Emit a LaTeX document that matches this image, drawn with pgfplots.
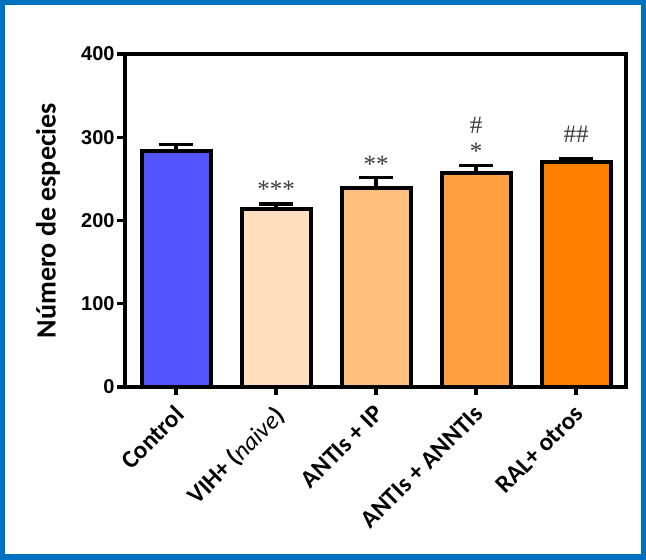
\documentclass[border=0pt]{standalone}
\usepackage{pgfplots}
\pgfplotsset{compat=1.18}
\usepackage{fontspec}
\setmainfont{Carlito}
\newfontfamily\numfont{Liberation Sans}
\newfontfamily\starfont{Liberation Serif}

\definecolor{frameblue}{RGB}{0,112,192}
\definecolor{cControl}{RGB}{85,85,255}
\definecolor{cNaive}{RGB}{255,223,191}
\definecolor{cIP}{RGB}{255,191,127}
\definecolor{cANNTI}{RGB}{255,160,64}
\definecolor{cRAL}{RGB}{255,128,0}
\definecolor{startext}{RGB}{60,60,60}

\pgfplotsset{
  groupbar/.style={ybar, bar shift=0pt, bar width=0.69, fill=#1, draw=black, line width=2pt,
    error bars/.cd, y dir=plus, y explicit, error mark=|,
    error bar style={line width=1.7pt, black},
    error mark options={line width=1.7pt, black, mark size=8.5pt}},
}

\begin{document}
\begin{tikzpicture}
\begin{axis}[
  scale only axis,
  width=250.5pt, height=166.5pt,
  xmin=-0.51, xmax=4.5,
  ymin=0, ymax=400,
  axis line style={line width=1.7pt},
  tick style={line width=1.7pt, black},
  tick align=outside,
  major tick length=4pt,
  xtick={0,1,2,3,4},
  xticklabels={Control, {VIH+ ({\mdseries\itshape naive})}, ANTIs + IP, ANTIs + ANNTIs, RAL+ otros},
  xtick pos=bottom,
  ytick={0,100,200,300,400},
  ytick pos=left,
  xticklabel style={rotate=45, anchor=north east, xshift=-3pt, yshift=-1pt, font=\fontsize{12.5pt}{14pt}\selectfont\bfseries, inner sep=1pt},
  yticklabel style={font=\numfont\fontsize{10pt}{12pt}\selectfont\bfseries, inner sep=1pt},
  /pgf/number format/assume math mode=true,
  ylabel={Número de especies},
  ylabel style={at={(axis description cs:-0.1537,0.5)}, anchor=center, font=\fontsize{14pt}{16pt}\selectfont\bfseries},
  clip=false,
]
\addplot[groupbar=cControl] coordinates {(0,284) +- (0,7)};
\addplot[groupbar=cNaive]   coordinates {(1,214) +- (0,6)};
\addplot[groupbar=cIP]      coordinates {(2,239) +- (0,13)};
\addplot[groupbar=cANNTI]   coordinates {(3,257) +- (0,9)};
\addplot[groupbar=cRAL]     coordinates {(4,270) +- (0,4)};

% significance marks
\begin{scope}[every node/.style={font=\starfont\fontsize{12.5pt}{14pt}\selectfont, text=startext, inner sep=0pt}]
\node at (axis cs:1,238) {***};
\node at (axis cs:2,268) {**};
\node at (axis cs:3,283) {*};
\node at (axis cs:3,314) {\#};
\node at (axis cs:4,303) {\#\#};
\end{scope}
\end{axis}
% outer frame
\draw[frameblue, line width=2.75pt] (-61.125pt,-85.125pt) rectangle (259.125pt,192.125pt);
\end{tikzpicture}
\end{document}
